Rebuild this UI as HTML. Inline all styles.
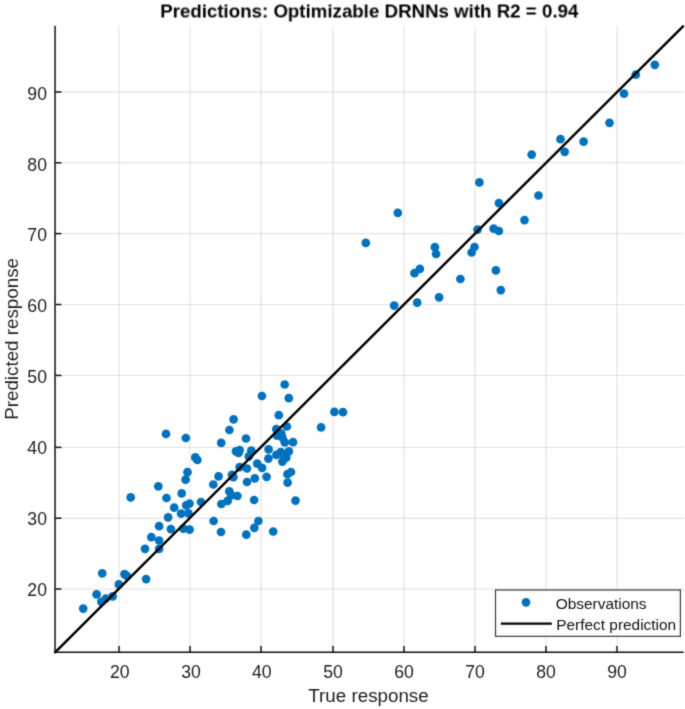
<!DOCTYPE html>
<html><head><meta charset="utf-8"><style>
html,body{margin:0;padding:0;background:#fff;}
body{width:685px;height:709px;overflow:hidden;}
svg{display:block;font-family:"Liberation Sans",sans-serif;will-change:transform;}
</style></head><body>
<svg width="685" height="709" viewBox="0 0 685 709">
<defs><filter id="bl" x="0" y="0" width="685" height="709" filterUnits="userSpaceOnUse" color-interpolation-filters="sRGB"><feConvolveMatrix order="3" kernelMatrix="0.0192 0.1001 0.0192 0.1001 0.5228 0.1001 0.0192 0.1001 0.0192" divisor="1" edgeMode="duplicate"/></filter></defs>
<g filter="url(#bl)">
<rect width="685" height="709" fill="#fff"/>
<g stroke="#262626" stroke-opacity="0.14" stroke-width="1">
<line x1="119.04" y1="25.8" x2="119.04" y2="652.34"/>
<line x1="55.08" y1="589.04" x2="683.7" y2="589.04"/>
<line x1="190.04" y1="25.8" x2="190.04" y2="652.34"/>
<line x1="55.08" y1="518.22" x2="683.7" y2="518.22"/>
<line x1="261.04" y1="25.8" x2="261.04" y2="652.34"/>
<line x1="55.08" y1="447.36" x2="683.7" y2="447.36"/>
<line x1="333.01" y1="25.8" x2="333.01" y2="652.34"/>
<line x1="55.08" y1="375.43" x2="683.7" y2="375.43"/>
<line x1="404.01" y1="25.8" x2="404.01" y2="652.34"/>
<line x1="55.08" y1="304.52" x2="683.7" y2="304.52"/>
<line x1="475.01" y1="25.8" x2="475.01" y2="652.34"/>
<line x1="55.08" y1="233.61" x2="683.7" y2="233.61"/>
<line x1="546.01" y1="25.8" x2="546.01" y2="652.34"/>
<line x1="55.08" y1="162.78" x2="683.7" y2="162.78"/>
<line x1="617.01" y1="25.8" x2="617.01" y2="652.34"/>
<line x1="55.08" y1="91.96" x2="683.7" y2="91.96"/>
</g>
<g fill="#0072bd">
<circle cx="654.8" cy="64.8" r="4.35"/>
<circle cx="635.8" cy="74.7" r="4.35"/>
<circle cx="624.0" cy="93.7" r="4.35"/>
<circle cx="609.5" cy="122.8" r="4.35"/>
<circle cx="560.5" cy="139.2" r="4.35"/>
<circle cx="583.6" cy="141.7" r="4.35"/>
<circle cx="564.7" cy="151.8" r="4.35"/>
<circle cx="531.7" cy="154.6" r="4.35"/>
<circle cx="538.5" cy="195.5" r="4.35"/>
<circle cx="479.4" cy="182.4" r="4.35"/>
<circle cx="498.9" cy="203.1" r="4.35"/>
<circle cx="524.5" cy="220.1" r="4.35"/>
<circle cx="477.5" cy="229.6" r="4.35"/>
<circle cx="493.6" cy="228.7" r="4.35"/>
<circle cx="498.9" cy="231.0" r="4.35"/>
<circle cx="474.5" cy="247.0" r="4.35"/>
<circle cx="471.6" cy="252.5" r="4.35"/>
<circle cx="495.9" cy="270.4" r="4.35"/>
<circle cx="500.8" cy="290.1" r="4.35"/>
<circle cx="460.4" cy="279.0" r="4.35"/>
<circle cx="397.8" cy="212.9" r="4.35"/>
<circle cx="365.8" cy="242.9" r="4.35"/>
<circle cx="434.9" cy="247.2" r="4.35"/>
<circle cx="436.1" cy="254.0" r="4.35"/>
<circle cx="419.9" cy="268.8" r="4.35"/>
<circle cx="414.5" cy="273.2" r="4.35"/>
<circle cx="439.1" cy="297.3" r="4.35"/>
<circle cx="417.2" cy="302.6" r="4.35"/>
<circle cx="394.2" cy="305.6" r="4.35"/>
<circle cx="334.4" cy="411.9" r="4.35"/>
<circle cx="343.0" cy="412.2" r="4.35"/>
<circle cx="321.1" cy="427.4" r="4.35"/>
<circle cx="284.7" cy="384.5" r="4.35"/>
<circle cx="261.9" cy="396.0" r="4.35"/>
<circle cx="288.8" cy="398.2" r="4.35"/>
<circle cx="278.8" cy="415.2" r="4.35"/>
<circle cx="286.8" cy="426.5" r="4.35"/>
<circle cx="276.3" cy="429.1" r="4.35"/>
<circle cx="276.9" cy="435.6" r="4.35"/>
<circle cx="281.3" cy="433.6" r="4.35"/>
<circle cx="282.4" cy="437.6" r="4.35"/>
<circle cx="284.8" cy="442.4" r="4.35"/>
<circle cx="293.0" cy="442.2" r="4.35"/>
<circle cx="268.6" cy="449.4" r="4.35"/>
<circle cx="288.8" cy="451.4" r="4.35"/>
<circle cx="276.3" cy="454.9" r="4.35"/>
<circle cx="283.7" cy="455.0" r="4.35"/>
<circle cx="280.8" cy="452.0" r="4.35"/>
<circle cx="286.3" cy="457.6" r="4.35"/>
<circle cx="268.4" cy="458.7" r="4.35"/>
<circle cx="282.4" cy="461.6" r="4.35"/>
<circle cx="257.2" cy="463.6" r="4.35"/>
<circle cx="262.1" cy="467.8" r="4.35"/>
<circle cx="291.0" cy="472.0" r="4.35"/>
<circle cx="287.5" cy="474.2" r="4.35"/>
<circle cx="287.6" cy="482.6" r="4.35"/>
<circle cx="266.6" cy="476.8" r="4.35"/>
<circle cx="254.8" cy="478.3" r="4.35"/>
<circle cx="295.5" cy="500.6" r="4.35"/>
<circle cx="273.2" cy="531.5" r="4.35"/>
<circle cx="233.6" cy="419.3" r="4.35"/>
<circle cx="229.4" cy="430.0" r="4.35"/>
<circle cx="246.0" cy="438.5" r="4.35"/>
<circle cx="221.2" cy="442.9" r="4.35"/>
<circle cx="236.0" cy="451.3" r="4.35"/>
<circle cx="239.6" cy="450.2" r="4.35"/>
<circle cx="238.6" cy="452.8" r="4.35"/>
<circle cx="251.3" cy="450.5" r="4.35"/>
<circle cx="248.8" cy="456.3" r="4.35"/>
<circle cx="239.6" cy="467.2" r="4.35"/>
<circle cx="247.0" cy="468.5" r="4.35"/>
<circle cx="218.6" cy="476.3" r="4.35"/>
<circle cx="231.9" cy="474.8" r="4.35"/>
<circle cx="233.4" cy="477.2" r="4.35"/>
<circle cx="213.3" cy="484.5" r="4.35"/>
<circle cx="247.0" cy="482.0" r="4.35"/>
<circle cx="229.3" cy="491.3" r="4.35"/>
<circle cx="237.4" cy="496.0" r="4.35"/>
<circle cx="227.6" cy="500.9" r="4.35"/>
<circle cx="221.3" cy="504.0" r="4.35"/>
<circle cx="231.4" cy="495.4" r="4.35"/>
<circle cx="254.1" cy="500.0" r="4.35"/>
<circle cx="201.0" cy="502.0" r="4.35"/>
<circle cx="213.6" cy="521.0" r="4.35"/>
<circle cx="221.0" cy="532.0" r="4.35"/>
<circle cx="258.4" cy="521.0" r="4.35"/>
<circle cx="254.3" cy="527.8" r="4.35"/>
<circle cx="246.3" cy="534.7" r="4.35"/>
<circle cx="166.0" cy="433.9" r="4.35"/>
<circle cx="185.8" cy="438.0" r="4.35"/>
<circle cx="195.3" cy="457.4" r="4.35"/>
<circle cx="197.4" cy="460.0" r="4.35"/>
<circle cx="187.5" cy="472.2" r="4.35"/>
<circle cx="185.6" cy="479.7" r="4.35"/>
<circle cx="158.3" cy="486.3" r="4.35"/>
<circle cx="130.7" cy="497.3" r="4.35"/>
<circle cx="166.5" cy="498.0" r="4.35"/>
<circle cx="181.7" cy="493.4" r="4.35"/>
<circle cx="189.5" cy="503.6" r="4.35"/>
<circle cx="186.2" cy="505.4" r="4.35"/>
<circle cx="174.2" cy="507.7" r="4.35"/>
<circle cx="181.1" cy="513.6" r="4.35"/>
<circle cx="188.4" cy="513.3" r="4.35"/>
<circle cx="168.1" cy="517.3" r="4.35"/>
<circle cx="159.1" cy="526.2" r="4.35"/>
<circle cx="170.9" cy="529.1" r="4.35"/>
<circle cx="183.3" cy="528.6" r="4.35"/>
<circle cx="189.6" cy="529.6" r="4.35"/>
<circle cx="151.4" cy="537.2" r="4.35"/>
<circle cx="159.1" cy="540.5" r="4.35"/>
<circle cx="159.1" cy="548.8" r="4.35"/>
<circle cx="145.0" cy="548.8" r="4.35"/>
<circle cx="102.2" cy="573.3" r="4.35"/>
<circle cx="124.5" cy="574.1" r="4.35"/>
<circle cx="126.8" cy="575.9" r="4.35"/>
<circle cx="146.1" cy="579.1" r="4.35"/>
<circle cx="118.8" cy="584.4" r="4.35"/>
<circle cx="96.6" cy="594.4" r="4.35"/>
<circle cx="112.7" cy="596.3" r="4.35"/>
<circle cx="105.8" cy="598.5" r="4.35"/>
<circle cx="101.4" cy="601.8" r="4.35"/>
<circle cx="83.2" cy="608.6" r="4.35"/>
</g>
<line x1="55.08" y1="652.34" x2="683" y2="26.3" stroke="#000" stroke-width="2.4" stroke-linecap="round"/>
<g stroke="#111" stroke-width="1.5">
<line x1="55.08" y1="25.8" x2="55.08" y2="652.34"/>
<line x1="55.08" y1="652.34" x2="683.7" y2="652.34"/>
<line x1="119.04" y1="652.34" x2="119.04" y2="646.04"/>
<line x1="55.08" y1="589.04" x2="61.38" y2="589.04"/>
<line x1="190.04" y1="652.34" x2="190.04" y2="646.04"/>
<line x1="55.08" y1="518.22" x2="61.38" y2="518.22"/>
<line x1="261.04" y1="652.34" x2="261.04" y2="646.04"/>
<line x1="55.08" y1="447.36" x2="61.38" y2="447.36"/>
<line x1="333.01" y1="652.34" x2="333.01" y2="646.04"/>
<line x1="55.08" y1="375.43" x2="61.38" y2="375.43"/>
<line x1="404.01" y1="652.34" x2="404.01" y2="646.04"/>
<line x1="55.08" y1="304.52" x2="61.38" y2="304.52"/>
<line x1="475.01" y1="652.34" x2="475.01" y2="646.04"/>
<line x1="55.08" y1="233.61" x2="61.38" y2="233.61"/>
<line x1="546.01" y1="652.34" x2="546.01" y2="646.04"/>
<line x1="55.08" y1="162.78" x2="61.38" y2="162.78"/>
<line x1="617.01" y1="652.34" x2="617.01" y2="646.04"/>
<line x1="55.08" y1="91.96" x2="61.38" y2="91.96"/>
</g>
<g fill="#1e1e1e" font-size="18">
<text transform="translate(119.85,677.60) scale(0.98,1)" text-anchor="middle">20</text>
<text transform="translate(47.0,595.50) scale(0.98,1)" text-anchor="end">20</text>
<text transform="translate(191.10,677.60) scale(0.98,1)" text-anchor="middle">30</text>
<text transform="translate(47.0,524.80) scale(0.98,1)" text-anchor="end">30</text>
<text transform="translate(261.70,677.60) scale(0.98,1)" text-anchor="middle">40</text>
<text transform="translate(47.0,453.80) scale(0.98,1)" text-anchor="end">40</text>
<text transform="translate(333.10,677.60) scale(0.98,1)" text-anchor="middle">50</text>
<text transform="translate(47.0,382.90) scale(0.98,1)" text-anchor="end">50</text>
<text transform="translate(404.00,677.60) scale(0.98,1)" text-anchor="middle">60</text>
<text transform="translate(47.0,312.10) scale(0.98,1)" text-anchor="end">60</text>
<text transform="translate(475.00,677.60) scale(0.98,1)" text-anchor="middle">70</text>
<text transform="translate(47.0,241.40) scale(0.98,1)" text-anchor="end">70</text>
<text transform="translate(546.00,677.60) scale(0.98,1)" text-anchor="middle">80</text>
<text transform="translate(47.0,170.50) scale(0.98,1)" text-anchor="end">80</text>
<text transform="translate(617.00,677.60) scale(0.98,1)" text-anchor="middle">90</text>
<text transform="translate(47.0,99.50) scale(0.98,1)" text-anchor="end">90</text>
</g>
<text transform="translate(369.2,17.45) scale(0.972,1)" text-anchor="middle" font-weight="bold" font-size="19.25" fill="#000">Predictions: Optimizable DRNNs with R2 = 0.94</text>
<text x="368.5" y="702.0" text-anchor="middle" font-size="18.8" fill="#1e1e1e">True response</text>
<text transform="translate(17.9,338.9) rotate(-90)" text-anchor="middle" font-size="18.8" fill="#1e1e1e">Predicted response</text>
<g>
<rect x="495.5" y="590" width="184.9" height="46.3" fill="#fff" stroke="#3a3a3a" stroke-width="1.2"/>
<circle cx="526" cy="602.3" r="4.35" fill="#0072bd"/>
<line x1="500.8" y1="623.6" x2="551.8" y2="623.6" stroke="#000" stroke-width="2.4"/>
<g font-size="15.4" fill="#111">
<text x="555.8" y="609.1">Observations</text>
<text x="556.3" y="629.8">Perfect prediction</text>
</g>
</g>
</g>
</svg>
</body></html>
